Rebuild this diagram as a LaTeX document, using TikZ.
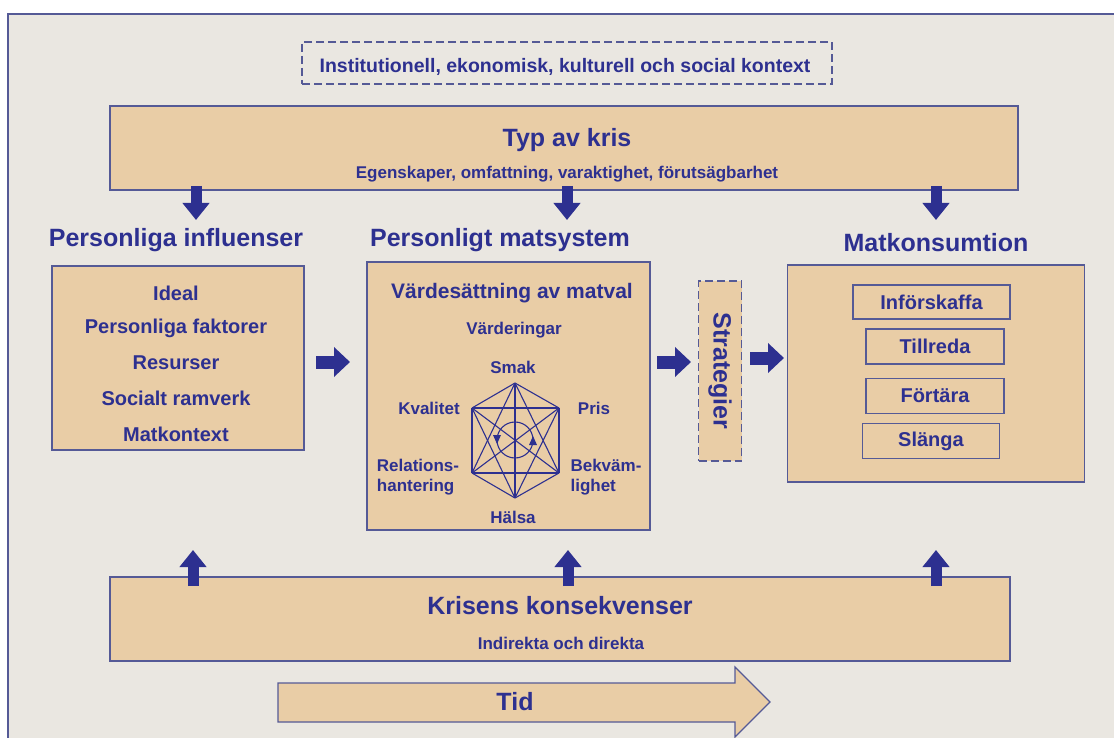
\documentclass[tikz,border=0pt]{standalone}
\usepackage{fontspec}
\setmainfont{Liberation Sans}
\usetikzlibrary{arrows.meta,calc}
\definecolor{bg}{HTML}{EAE7E1}
\definecolor{boxfill}{HTML}{E9CDA6}
\definecolor{ink}{HTML}{2D3090}
\definecolor{edge}{HTML}{555A96}
\newcommand{\fs}[1]{\fontsize{#1}{#1}\selectfont\bfseries}
\begin{document}
\begin{tikzpicture}[x=1pt,y=-1pt,
  every node/.style={text=ink, inner sep=0pt},
  box/.style={draw=edge, fill=boxfill, line width=1.2pt},
  dbox/.style={draw=edge, line width=1.2pt, dash pattern=on 8pt off 4pt},
  ttl/.style={font=\fs{25}},
  sub/.style={font=\fs{17}},
  item/.style={font=\fs{20}},
  lbl/.style={font=\fs{17}},
  bigarrow/.style={draw=ink, line width=11pt, -{Triangle[length=17pt,width=26pt]}},
  sidearrow/.style={draw=ink, line width=13pt, -{Triangle[length=16pt,width=29pt]}},
  hexline/.style={draw=ink, line width=1.1pt}
]
\useasboundingbox (0,0) rectangle (1114,738);
\fill[white] (0,0) rectangle (1114,738);
\fill[bg] (8,14) rectangle (1114,738);
\draw[edge, line width=1.3pt] (8,738) -- (8,14) -- (1114,14);

% context box
\node[dbox, minimum width=530pt, minimum height=42pt] (ctx) at (567,63) {};
\node[font=\fs{19.5}] (ctxt) at (565,67) {Institutionell, ekonomisk, kulturell och social kontext};

% Typ av kris
\node[box, minimum width=908pt, minimum height=84pt] (typ) at (564,148) {};
\node[ttl] (typt) at (567,140) {Typ av kris};
\node[sub] (typs) at (567,174) {Egenskaper, omfattning, varaktighet, förutsägbarhet};

% headings
\node[ttl] (hpi) at (176,240) {Personliga influenser};
\node[ttl] (hpm) at (500,240) {Personligt matsystem};
\node[ttl] (hmk) at (936,243) {Matkonsumtion};

% left box
\node[box, minimum width=252pt, minimum height=184pt] (pi) at (178,358) {};
\node[item] (i1) at (176,293) {Ideal};
\node[item] (i2) at (176,328) {Personliga faktorer};
\node[item] (i3) at (176,363) {Resurser};
\node[item] (i4) at (176,398) {Socialt ramverk};
\node[item] (i5) at (176,434) {Matkontext};

% middle box
\node[box, minimum width=283pt, minimum height=268pt] (pm) at (508.5,396) {};
\node[font=\fs{21}] (vm) at (512,293) {Värdesättning av matval};
\node[lbl] (vd) at (514,330) {Värderingar};
\node[lbl] (smak) at (513,367) {Smak};
\node[lbl] (kval) at (429,408) {Kvalitet};
\node[lbl] (pris) at (594,408) {Pris};
\node[lbl, align=left] (rel) at (418,477) {Relations-\\[3pt]hantering};
\node[lbl, align=left] (bek) at (606,477) {Bekväm-\\[3pt]lighet};
\node[lbl] (hals) at (513,517) {Hälsa};

% hexagon with all diagonals
\coordinate (h1) at (515,383);
\coordinate (h2) at (559,408);
\coordinate (h3) at (559,473);
\coordinate (h4) at (515,498);
\coordinate (h5) at (472,473);
\coordinate (h6) at (472,408);
\foreach \a/\b in {h1/h2,h1/h3,h1/h4,h1/h5,h1/h6,h2/h3,h2/h4,h2/h5,h2/h6,h3/h4,h3/h5,h3/h6,h4/h5,h4/h6,h5/h6}
  \draw[hexline] (\a) -- (\b);
\coordinate (hc) at (515,440);
\draw[hexline] (hc) circle[radius=18pt];
\fill[ink] (493,435) -- (501,435) -- (497,444) -- cycle;
\fill[ink] (529,445) -- (537,445) -- (533,436) -- cycle;

% Strategier
\node[dbox, fill=boxfill, minimum width=43pt, minimum height=180pt] (str) at (720,371) {};
\node[ttl, rotate=-90] (strt) at (720,371) {Strategier};

% right box
\node[box, minimum width=297pt, minimum height=217pt] (mk) at (936,373.5) {};
\node[box, minimum width=157pt, minimum height=34pt, item] (inf) at (931.5,302) {Införskaffa};
\node[box, minimum width=138pt, minimum height=35pt, item] (til) at (935,346.5) {Tillreda};
\node[box, minimum width=138pt, minimum height=35pt, item] (fort) at (935,396) {Förtära};
\node[box, minimum width=137pt, minimum height=35pt, item] (sla) at (931,441) {Slänga};

% Krisens konsekvenser
\node[box, minimum width=900pt, minimum height=84pt] (kk) at (560,619) {};
\node[ttl] (kkt) at (560,606) {Krisens konsekvenser};
\node[sub] (kks) at (561,643) {Indirekta och direkta};

% Tid arrow
\draw[box] (278,683) -- (735,683) -- (735,667) -- (770,702) -- (735,737) -- (735,722) -- (278,722) -- cycle;
\node[ttl] (tid) at (515,702) {Tid};

% down arrows
\coordinate (d1s) at (196,186); \coordinate (d1e) at (196,220);
\coordinate (d2s) at (567,186); \coordinate (d2e) at (567,220);
\coordinate (d3s) at (936,186); \coordinate (d3e) at (936,220);
\draw[bigarrow] (d1s) -- (d1e);
\draw[bigarrow] (d2s) -- (d2e);
\draw[bigarrow] (d3s) -- (d3e);

% up arrows
\coordinate (u1s) at (193,586); \coordinate (u1e) at (193,550);
\coordinate (u2s) at (568,586); \coordinate (u2e) at (568,550);
\coordinate (u3s) at (936,586); \coordinate (u3e) at (936,550);
\draw[bigarrow] (u1s) -- (u1e);
\draw[bigarrow] (u2s) -- (u2e);
\draw[bigarrow] (u3s) -- (u3e);

% side arrows
\coordinate (a1s) at (316,362); \coordinate (a1e) at (350,362);
\coordinate (a2s) at (657,362); \coordinate (a2e) at (691,362);
\coordinate (a3s) at (750,358); \coordinate (a3e) at (784,358);
\draw[sidearrow] (a1s) -- (a1e);
\draw[sidearrow] (a2s) -- (a2e);
\draw[sidearrow] (a3s) -- (a3e);
\end{tikzpicture}
\end{document}
